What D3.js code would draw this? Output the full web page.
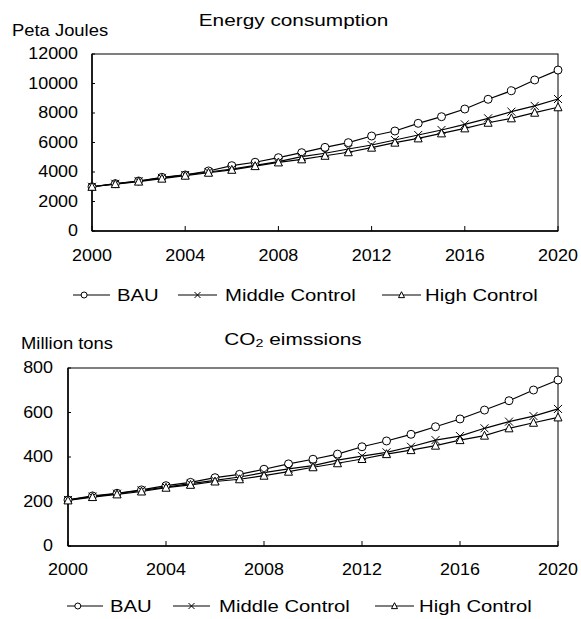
<!DOCTYPE html>
<html><head><meta charset="utf-8">
<script src="https://cdn.jsdelivr.net/npm/d3@7"></script>
<style>
body{margin:0;background:#fff;}
svg text{font-family:"Liberation Sans",Arial,sans-serif;fill:#000;}
</style></head>
<body>
<svg id="c" width="581" height="619"></svg>
<script>
const years = d3.range(2000, 2021);
const xTicks = [2000, 2004, 2008, 2012, 2016, 2020];
const seriesNames = ["BAU", "Middle Control", "High Control"];

const energyBAU    = [3000,3210,3390,3640,3800,4070,4430,4660,4970,5310,5670,5990,6440,6780,7300,7750,8270,8930,9510,10240,10910];
const energyMiddle = [3000,3200,3380,3600,3800,4000,4200,4450,4700,5040,5270,5560,5830,6170,6510,6850,7230,7640,8090,8480,8950];
const energyHigh   = [3000,3180,3350,3550,3750,3950,4150,4400,4650,4860,5100,5340,5650,5990,6280,6620,6960,7340,7640,8020,8390];
const energyTicks  = [0,2000,4000,6000,8000,10000,12000];

const co2BAU    = [207,225,237,252,271,286,307,322,345,369,390,413,446,472,502,536,571,611,653,701,746];
const co2Middle = [207,222,235,250,265,280,295,310,330,347,361,386,404,421,446,476,494,529,559,584,616];
const co2High   = [205,220,232,245,262,275,290,300,316,334,354,372,391,413,431,451,476,496,529,554,578];
const co2Ticks  = [0,200,400,600,800];

const svg = d3.select("#c");

function txt(g, x, y, s, sx, anchor, size){
  const t = g.append("text")
    .attr("transform", `translate(${x},${y}) scale(${sx},1)`)
    .attr("text-anchor", anchor || "start")
    .attr("dominant-baseline", "central")
    .style("font-size", (size||16) + "px")
    .text(s);
  return t;
}

function marker(g, type, x, y, r){
  if (type === 0){
    g.append("circle").attr("cx", x).attr("cy", y).attr("r", r)
      .attr("fill", "#fff").attr("stroke", "#000").attr("stroke-width", 1);
  } else if (type === 1){
    g.append("path").attr("d", `M${x-r},${y-r}L${x+r},${y+r}M${x-r},${y+r}L${x+r},${y-r}`)
      .attr("stroke", "#000").attr("stroke-width", 1).attr("fill", "none");
  } else {
    const h = r * 1.1;
    g.append("path").attr("d", `M${x},${y-h}L${x+r},${y+h*0.8}L${x-r},${y+h*0.8}Z`)
      .attr("fill", "#fff").attr("stroke", "#000").attr("stroke-width", 1);
  }
}

function chart(cfg){
  const g = svg.append("g");
  const x = d3.scaleLinear().domain([2000, 2020]).range([cfg.left, cfg.right]);
  const y = d3.scaleLinear().domain([0, cfg.max]).range([cfg.bottom, cfg.top]);

  // frame
  g.append("rect").attr("x", cfg.left).attr("y", cfg.top)
    .attr("width", cfg.right - cfg.left).attr("height", cfg.bottom - cfg.top)
    .attr("fill", "none").attr("stroke", "#000").attr("stroke-width", 1);
  // bottom axis line thicker
  g.append("line").attr("x1", cfg.left).attr("x2", cfg.right)
    .attr("y1", cfg.bottom).attr("y2", cfg.bottom).attr("stroke", "#000").attr("stroke-width", 1.5);
  g.append("line").attr("x1", cfg.left).attr("x2", cfg.left)
    .attr("y1", cfg.top).attr("y2", cfg.bottom).attr("stroke", "#000").attr("stroke-width", 1.5);

  // x ticks (inside)
  xTicks.forEach(t => {
    g.append("line").attr("x1", x(t)).attr("x2", x(t))
      .attr("y1", cfg.bottom).attr("y2", cfg.bottom - 5).attr("stroke", "#000");
    txt(g, x(t), cfg.xLabelY, String(t), 1.12, "middle");
  });
  // y ticks
  cfg.ticks.forEach(t => {
    g.append("line").attr("x1", cfg.left).attr("x2", cfg.left + 3)
      .attr("y1", y(t)).attr("y2", y(t)).attr("stroke", "#000");
    txt(g, cfg.yLabelX, y(t), String(t), 1.12, "end");
  });

  // titles
  cfg.titleFn(g);
  txt(g, cfg.unitX, cfg.unitY, cfg.unit, 1.15, "start");

  // series
  const line = d3.line().x((d, i) => x(years[i])).y(d => y(d));
  cfg.data.forEach((arr, si) => {
    g.append("path").attr("d", line(arr)).attr("fill", "none")
      .attr("stroke", "#000").attr("stroke-width", 1.2);
  });
  cfg.data.forEach((arr, si) => {
    arr.forEach((v, i) => marker(g, si, x(years[i]), y(v), 4));
  });

  // legend
  cfg.legend.forEach((L, si) => {
    g.append("line").attr("x1", L.x1).attr("x2", L.x2)
      .attr("y1", cfg.legendY).attr("y2", cfg.legendY).attr("stroke", "#000").attr("stroke-width", 1.2);
    marker(g, si, si === 0 ? L.x1 + (L.x2 - L.x1) * 0.3 : (L.x1 + L.x2) / 2, cfg.legendY, 3);
    txt(g, L.tx, cfg.legendY, seriesNames[si], 1.27, "start");
  });
}

chart({
  left: 92, right: 558, top: 54, bottom: 231, max: 12000,
  ticks: energyTicks, xLabelY: 256, yLabelX: 78,
  unit: "Peta Joules", unitX: 12, unitY: 30,
  titleFn: g => txt(g, 293.5, 20, "Energy consumption", 1.3, "middle"),
  data: [energyBAU, energyMiddle, energyHigh],
  legendY: 295,
  legend: [{x1: 73, x2: 110, tx: 117}, {x1: 178, x2: 217, tx: 225}, {x1: 382, x2: 421, tx: 425}]
});

chart({
  left: 68, right: 558, top: 368, bottom: 546, max: 800,
  ticks: co2Ticks, xLabelY: 570, yLabelX: 53,
  unit: "Million tons", unitX: 21, unitY: 343,
  titleFn: g => {
    const t = g.append("text")
      .attr("transform", `translate(293,339) scale(1.3,1)`)
      .attr("text-anchor", "middle").attr("dominant-baseline", "central")
      .style("font-size", "16px");
    t.append("tspan").text("CO");
    t.append("tspan").attr("dy", 4).style("font-size", "11px").text("2");
    t.append("tspan").attr("dy", -4).text(" eimssions");
  },
  data: [co2BAU, co2Middle, co2High],
  legendY: 606,
  legend: [{x1: 67, x2: 103, tx: 110}, {x1: 173, x2: 210, tx: 219}, {x1: 375, x2: 414, tx: 419}]
});
</script>
</body></html>
